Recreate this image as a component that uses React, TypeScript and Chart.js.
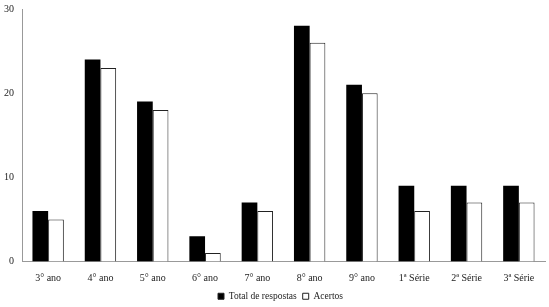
import React, { useEffect, useRef } from "react";
import { Chart, registerables } from "chart.js";

Chart.register(...registerables);

const categories = ["3° ano", "4° ano", "5° ano", "6° ano", "7° ano", "8° ano", "9° ano", "1ª Série", "2ª Série", "3ª Série"];
const totalRespostas = [6, 24, 19, 3, 7, 28, 21, 9, 9, 9];
const acertos = [5, 23, 18, 1, 6, 26, 20, 6, 7, 7];
const yTicks = [0, 10, 20, 30];

const shiftLegend = {
  id: "shiftLegend",
  afterLayout(chart: any) {
    const l = chart.legend;
    if (l) {
      l.left += 8;
      l.right += 8;
    }
  },
};

export default function App() {
  const ref = useRef<HTMLCanvasElement>(null);
  useEffect(() => {
    document.body.style.margin = "0";
    const ctx = ref.current!;
    const font = { family: "'Liberation Serif', 'Times New Roman', serif", size: 10 };
    const chart = new Chart(ctx, {
      type: "bar",
      data: {
        labels: categories,
        datasets: [
          {
            label: "Total de respostas",
            data: totalRespostas,
            backgroundColor: "#000000",
            borderColor: "#000000",
            borderWidth: 0,
          },
          {
            label: "Acertos",
            data: acertos,
            backgroundColor: "#ffffff",
            borderColor: "#222222",
            borderWidth: { top: 1, left: 1, right: 1, bottom: 0 } as any,
          },
        ],
      },
      plugins: [shiftLegend],
      options: {
        animation: false,
        responsive: false,
        maintainAspectRatio: false,
        layout: { padding: { top: 9, right: 4, left: 0, bottom: -4 } },
        datasets: { bar: { barPercentage: 1, categoryPercentage: 0.6 } },
        plugins: {
          tooltip: { enabled: false },
          legend: {
            position: "bottom",
            labels: {
              font: { ...font, size: 9.5 },
              color: "#222",
              boxWidth: 6,
              boxHeight: 6,
              padding: 6,
              generateLabels: (c: any) =>
                c.data.datasets.map((d: any, i: number) => ({
                  text: d.label,
                  fillStyle: d.backgroundColor,
                  strokeStyle: "#222",
                  lineWidth: 1,
                  fontColor: "#222",
                  datasetIndex: i,
                  hidden: false,
                })),
            },
          },
        },
        scales: {
          x: {
            grid: { display: false, drawTicks: false },
            border: { color: "#999", width: 1 },
            ticks: { font, color: "#222", padding: 11, maxRotation: 0, autoSkip: false },
            afterFit: (s: any) => {
              s.height = 24;
              s.paddingLeft = 0;
              s.paddingRight = 0;
            },
          },
          y: {
            min: 0,
            max: 30,
            afterBuildTicks: (s: any) => { s.ticks = yTicks.map((v) => ({ value: v })); },
            grid: { display: false, drawTicks: false },
            border: { color: "#999", width: 1 },
            ticks: { font, color: "#222", padding: 8 },
            afterFit: (s: any) => {
              s.width = 22;
              s.paddingTop = 0;
              s.paddingBottom = 0;
            },
          },
        },
      },
    });
    return () => chart.destroy();
  }, []);
  return (
    <div style={{ position: "absolute", left: 0, top: 0, width: 549, height: 307 }}>
      <canvas ref={ref} width={549} height={307} style={{ width: 549, height: 307 }} />
    </div>
  );
}
